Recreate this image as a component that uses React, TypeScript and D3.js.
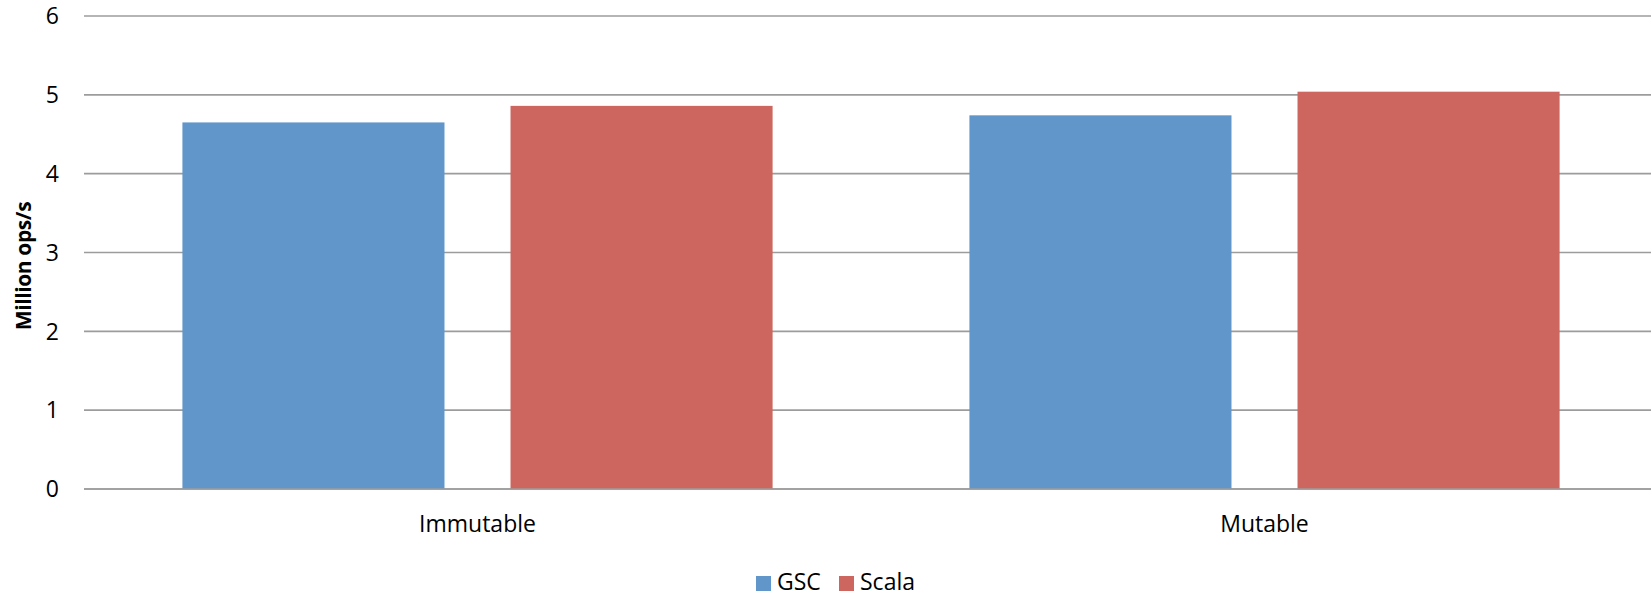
import React from "react";
import * as d3 from "d3";

const categories = ["Immutable", "Mutable"];
const seriesNames = ["GSC", "Scala"];
const gscValues = [4.65, 4.74];
const scalaValues = [4.86, 5.04];
const yTicks = [0, 1, 2, 3, 4, 5, 6];
const colors = ["#6096c9", "#cd665e"];
const yTitle = "Million ops/s";

const W = 1651;
const H = 596;
const margin = { left: 84, right: -7, top: 16, bottom: 107 };
const FONT = "'Open Sans', sans-serif";

export default function App() {
  const plotW = W - margin.left - margin.right;
  const y0 = H - margin.bottom;
  const x = d3.scaleBand<string>().domain(categories).range([margin.left, margin.left + plotW]).paddingInner(0).paddingOuter(0);
  const y = d3.scaleLinear().domain([0, 6]).range([y0, margin.top]);
  const band = x.bandwidth();
  const barW = band * 0.333;
  const innerGap = band * 0.0839;
  const clusterW = 2 * barW + innerGap;
  const series = [gscValues, scalaValues];

  return (
    <svg width={W} height={H} style={{ position: "absolute", left: 0, top: 0, background: "#fff" }} fontFamily={FONT}>
      {yTicks.map((t) => (
        <g key={t}>
          <line x1={margin.left} x2={W} y1={y(t)} y2={y(t)} stroke="#9c9c9c" strokeWidth={1.6} />
          <text x={59} y={y(t)} dy="0.36em" textAnchor="end" fontSize={23} fill="#000">
            {t}
          </text>
        </g>
      ))}
      {categories.map((c, ci) => {
        const start = (x(c) as number) + (band - clusterW) / 2;
        return (
          <g key={c}>
            {series.map((vals, si) => (
              <rect
                key={si}
                x={start + si * (barW + innerGap)}
                y={y(vals[ci])}
                width={barW}
                height={y0 - y(vals[ci])}
                fill={colors[si]}
              />
            ))}
            <text x={(x(c) as number) + band / 2} y={532} textAnchor="middle" fontSize={23} fill="#000">
              {c}
            </text>
          </g>
        );
      })}
      <line x1={margin.left} x2={W} y1={y0} y2={y0} stroke="#9c9c9c" strokeWidth={1.6} />
      <text
        transform={`translate(31, 266) rotate(-90)`}
        textAnchor="middle"
        fontSize={21}
        fontWeight="bold"
        letterSpacing={-0.4}
        fill="#000"
      >
        {yTitle}
      </text>
      {seriesNames.map((s, i) => {
        const lx = [756, 839][i];
        return (
          <g key={s}>
            <rect x={lx} y={576} width={15} height={15} fill={colors[i]} />
            <text x={lx + 21} y={582} dy="0.36em" fontSize={23} fill="#000">
              {s}
            </text>
          </g>
        );
      })}
    </svg>
  );
}
